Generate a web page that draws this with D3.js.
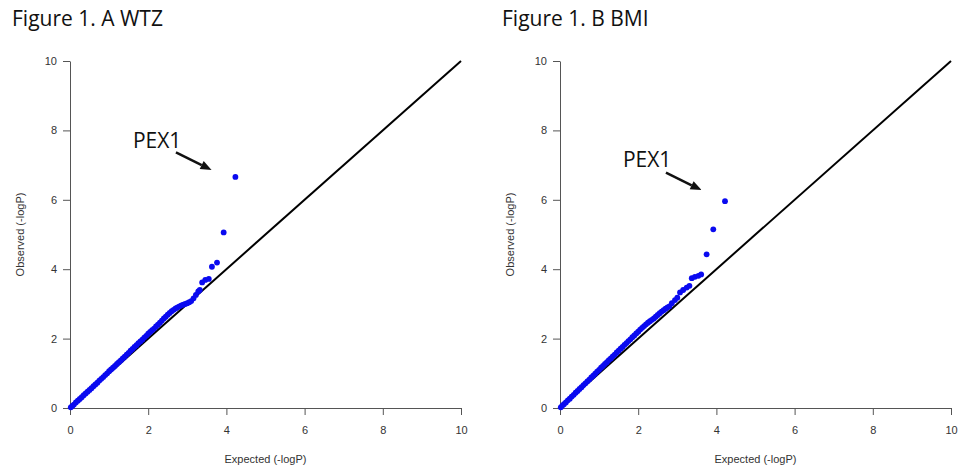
<!DOCTYPE html>
<html>
<head>
<meta charset="utf-8">
<script src="https://cdn.jsdelivr.net/npm/d3@7"></script>
<style>
  html, body { margin: 0; padding: 0; background: #fff; }
  svg { display: block; }
  .axis path, .axis line { stroke: #555; stroke-width: 1; }
  .axis text { font-family: "Liberation Sans", Arial, sans-serif; font-size: 11px; fill: #333; }
  .label { font-family: "Liberation Sans", Arial, sans-serif; font-size: 11px; fill: #333; }
  .title, .note { font-family: "Open Sans", sans-serif; fill: #111; }
</style>
</head>
<body>
<svg id="chart" width="963" height="473"></svg>
<script>
// tick values shared by both axes of both panels
var ticks = [0, 2, 4, 6, 8, 10];

// panel A (WTZ): expected vs observed -logP
var wtzExpected = [0.02, 0.06, 0.10, 0.15, 0.20, 0.25, 0.30, 0.35, 0.40, 0.45,
    0.50, 0.55, 0.60, 0.65, 0.70, 0.75, 0.80, 0.85, 0.90, 0.95,
    1.00, 1.05, 1.10, 1.15, 1.20, 1.25, 1.30, 1.35, 1.40, 1.45,
    1.50, 1.55, 1.60, 1.65, 1.70, 1.75, 1.80, 1.85, 1.90, 1.95,
    2.00, 2.05, 2.10, 2.15, 2.20, 2.25, 2.30, 2.35, 2.40, 2.45,
    2.50, 2.55, 2.60, 2.65, 2.70, 2.75, 2.80, 2.85, 2.90, 2.95,
    3.00, 3.05, 3.10, 3.16, 3.22, 3.28, 3.32, 3.38, 3.46, 3.55,
    3.63, 3.76, 3.93, 4.23];
var wtzObserved = [0.02, 0.06, 0.10, 0.16, 0.21, 0.26, 0.31, 0.37, 0.42, 0.47,
    0.52, 0.57, 0.63, 0.68, 0.73, 0.79, 0.84, 0.89, 0.95, 1.00,
    1.06, 1.11, 1.16, 1.21, 1.27, 1.32, 1.37, 1.43, 1.48, 1.54,
    1.59, 1.65, 1.70, 1.76, 1.81, 1.87, 1.92, 1.97, 2.03, 2.08,
    2.14, 2.19, 2.24, 2.29, 2.35, 2.40, 2.46, 2.52, 2.58, 2.63,
    2.69, 2.74, 2.79, 2.83, 2.87, 2.90, 2.93, 2.96, 2.98, 3.00,
    3.02, 3.05, 3.08, 3.16, 3.26, 3.36, 3.40, 3.62, 3.69, 3.72,
    4.07, 4.19, 5.06, 6.66];

// panel B (BMI)
var bmiExpected = [0.02, 0.06, 0.10, 0.15, 0.20, 0.25, 0.30, 0.35, 0.40, 0.45,
    0.50, 0.55, 0.60, 0.65, 0.70, 0.75, 0.80, 0.85, 0.90, 0.95,
    1.00, 1.05, 1.10, 1.15, 1.20, 1.25, 1.30, 1.35, 1.40, 1.45,
    1.50, 1.55, 1.60, 1.65, 1.70, 1.75, 1.80, 1.85, 1.90, 1.95,
    2.00, 2.05, 2.10, 2.15, 2.20, 2.25, 2.30, 2.35, 2.40, 2.45,
    2.50, 2.55, 2.60, 2.65, 2.70, 2.75, 2.80, 2.86, 2.94, 3.00,
    3.07, 3.15, 3.24, 3.31, 3.37, 3.45, 3.54, 3.61, 3.75, 3.92,
    4.22];
var bmiObserved = [0.02, 0.07, 0.11, 0.16, 0.22, 0.27, 0.33, 0.38, 0.44, 0.49,
    0.55, 0.60, 0.66, 0.71, 0.77, 0.82, 0.88, 0.93, 0.99, 1.05,
    1.10, 1.16, 1.21, 1.27, 1.32, 1.38, 1.43, 1.49, 1.54, 1.60,
    1.65, 1.71, 1.76, 1.82, 1.87, 1.93, 1.98, 2.04, 2.09, 2.15,
    2.20, 2.26, 2.31, 2.36, 2.41, 2.46, 2.50, 2.54, 2.58, 2.63,
    2.68, 2.73, 2.78, 2.82, 2.86, 2.90, 2.93, 3.02, 3.11, 3.18,
    3.33, 3.40, 3.47, 3.52, 3.74, 3.78, 3.81, 3.85, 4.43, 5.15,
    5.96];

const svg = d3.select('#chart');
const plotTop = 61;
const plotBottom = 408;
const plotWidth = 391;

function drawPanel(left, title, expected, observed, note) {
    const x = d3.scaleLinear().domain([0, 10]).range([left, left + plotWidth]);
    const y = d3.scaleLinear().domain([0, 10]).range([plotBottom, plotTop]);

    svg.append('text')
        .attr('class', 'title')
        .attr('x', left - 58)
        .attr('y', 26)
        .attr('font-size', 21)
        .text(title);

    svg.append('g')
        .attr('class', 'axis')
        .attr('transform', 'translate(0,' + plotBottom + ')')
        .call(d3.axisBottom(x).tickValues(ticks).tickSize(7).tickSizeOuter(0).tickPadding(11));

    svg.append('g')
        .attr('class', 'axis')
        .attr('transform', 'translate(' + left + ',0)')
        .call(d3.axisLeft(y).tickValues(ticks).tickSize(7).tickSizeOuter(0).tickPadding(6));

    svg.selectAll('.axis .domain').attr('stroke', '#555');

    // y = x reference line
    svg.append('path')
        .datum([0, 10])
        .attr('fill', 'none')
        .attr('stroke', '#000')
        .attr('stroke-width', 2)
        .attr('d', d3.line().x(d => x(d)).y(d => y(d)));

    const pts = expected.map((e, i) => ({e: e, o: observed[i]}));
    svg.append('g')
        .selectAll('circle')
        .data(pts)
        .enter().append('circle')
        .attr('cx', d => x(d.e))
        .attr('cy', d => y(d.o))
        .attr('r', 2.9)
        .attr('fill', '#0a0af0');

    svg.append('text')
        .attr('class', 'label')
        .attr('x', left + plotWidth / 2)
        .attr('y', 463)
        .attr('text-anchor', 'middle')
        .text('Expected (-logP)');

    svg.append('text')
        .attr('class', 'label')
        .attr('transform', 'translate(' + (left - 46) + ',' + ((plotTop + plotBottom) / 2) + ') rotate(-90)')
        .attr('text-anchor', 'middle')
        .text('Observed (-logP)');

    // PEX1 annotation and arrow
    svg.append('text')
        .attr('class', 'note')
        .attr('x', x(note.tx))
        .attr('y', y(note.ty))
        .attr('font-size', 21)
        .text('PEX1');

    const x1 = x(note.ax1), y1 = y(note.ay1), x2 = x(note.ax2), y2 = y(note.ay2);
    const ang = Math.atan2(y2 - y1, x2 - x1);
    const headLen = 11, headW = 4.5;
    const bx = x2 - headLen * Math.cos(ang), by = y2 - headLen * Math.sin(ang);
    svg.append('line')
        .attr('x1', x1).attr('y1', y1)
        .attr('x2', bx).attr('y2', by)
        .attr('stroke', '#111')
        .attr('stroke-width', 2.5);
    svg.append('path')
        .attr('fill', '#111')
        .attr('d', 'M' + x2 + ',' + y2 +
            'L' + (bx + headW * Math.sin(ang)) + ',' + (by - headW * Math.cos(ang)) +
            'L' + (bx - headW * Math.sin(ang)) + ',' + (by + headW * Math.cos(ang)) + 'Z');
}

drawPanel(70, 'Figure 1. A WTZ', wtzExpected, wtzObserved,
    {tx: 1.61, ty: 7.49, ax1: 2.71, ay1: 7.37, ax2: 3.62, ay2: 6.86});
drawPanel(560, 'Figure 1. B BMI', bmiExpected, bmiObserved,
    {tx: 1.61, ty: 6.95, ax1: 2.71, ay1: 6.78, ax2: 3.62, ay2: 6.28});
</script>
</body>
</html>
